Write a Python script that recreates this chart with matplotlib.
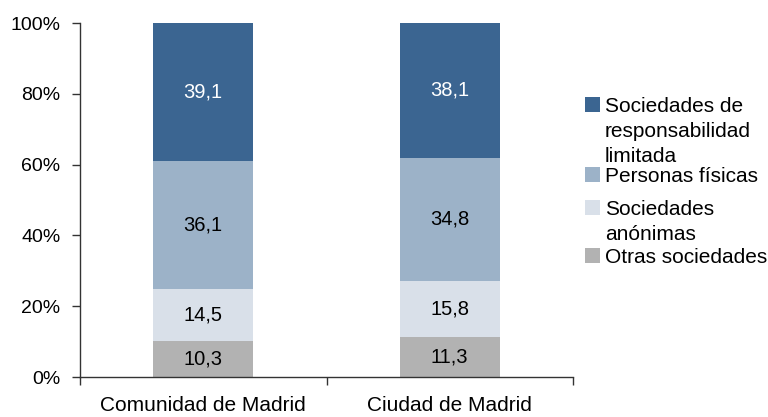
import matplotlib.pyplot as plt
import numpy as np
from matplotlib.patches import Rectangle

plt.rcParams['font.family'] = ['Liberation Sans', 'DejaVu Sans']

categories = ['Comunidad de Madrid', 'Ciudad de Madrid']
otras = [10.3, 11.3]
anonimas = [14.5, 15.8]
fisicas = [36.1, 34.8]
srl = [39.1, 38.1]

series = [otras, anonimas, fisicas, srl]
labels = ['Otras sociedades', 'Sociedades\nanónimas', 'Personas físicas',
          'Sociedades de\nresponsabilidad\nlimitada']
colors = ['#b2b2b2', '#d9e0e9', '#9cb2c8', '#3b6591']
text_colors = ['black', 'black', 'black', 'white']

W, H = 768, 417
fig = plt.figure(figsize=(W / 100, H / 100), dpi=100)
ax = fig.add_axes([80 / W, 1 - 377 / H, 493 / W, 354 / H])

x = np.arange(len(categories))
bottom = np.zeros(len(categories))
for vals, col, tcol in zip(series, colors, text_colors):
    vals = np.array(vals)
    ax.bar(x, vals, bottom=bottom, width=0.405, color=col, linewidth=0)
    for xi, b, v in zip(x, bottom, vals):
        ax.text(xi, b + v / 2, f'{v:.1f}'.replace('.', ','), ha='center', va='center',
                fontsize=14.5, color=tcol)
    bottom += vals

ax.set_xlim(-0.5, 1.5)
ax.set_ylim(0, 100)
ax.set_yticks(range(0, 101, 20))
ax.set_yticklabels([f'{v}%' for v in range(0, 101, 20)])
ax.tick_params(axis='y', labelsize=14, length=6, width=1, pad=8, color='#333333')

ax.set_xticks([-0.5, 0.5, 1.5])
ax.set_xticklabels(['', '', ''])
ax.set_xticks(x, minor=True)
ax.set_xticklabels(categories, minor=True)
ax.tick_params(axis='x', which='major', length=6, width=1, color='#333333')
ax.tick_params(axis='x', which='minor', length=0, labelsize=15, pad=14)

for s in ['top', 'right']:
    ax.spines[s].set_visible(False)
for s in ['left', 'bottom']:
    ax.spines[s].set_color('#333333')
    ax.spines[s].set_linewidth(1)

# legend drawn by hand so the square sits on the first line of each label
legend_baselines = [112, 182, 215, 263]
legend_order = [3, 2, 1, 0]
for yb, i in zip(legend_baselines, legend_order):
    fig.patches.append(Rectangle((585 / W, 1 - yb / H), 15 / W, 15 / H,
                                 transform=fig.transFigure, color=colors[i], linewidth=0))
    for k, line in enumerate(labels[i].split('\n')):
        fig.text(605 / W, 1 - (yb + 25 * k) / H, line, fontsize=15,
                 ha='left', va='baseline')

fig.savefig('out.png', dpi=100)
